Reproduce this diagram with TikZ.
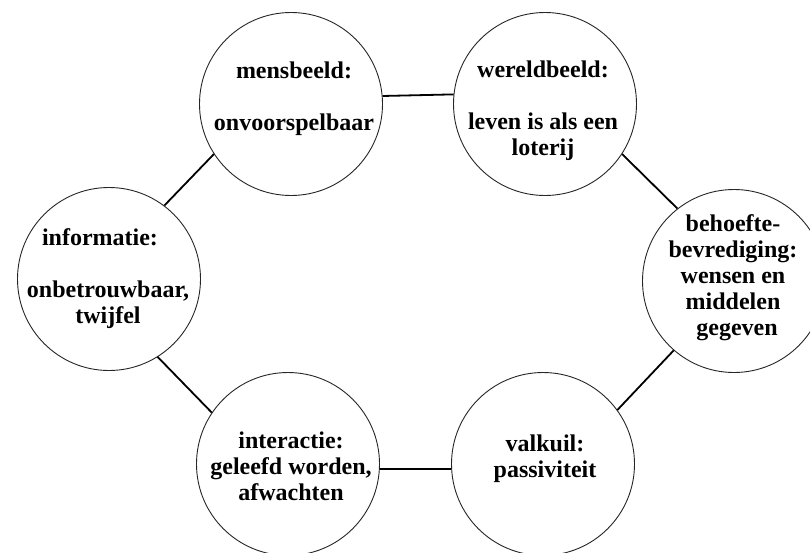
\documentclass[tikz,border=0pt]{standalone}
\usepackage{fontspec}
\setmainfont{Liberation Serif}
\begin{document}
\begin{tikzpicture}[x=1pt,y=-1pt,
  ring/.style={circle,draw=black!85,line width=0.9pt,minimum size=183pt,inner sep=0pt},
  caption/.style={align=center,font=\bfseries\fontsize{24}{26}\selectfont,
    text=black,inner sep=0pt,anchor=base},
  link/.style={line width=1.8pt,black}]
% page and frame
\fill[white] (0,0) rectangle (810,552);
\path[use as bounding box] (0,0) rectangle (810,552);
\clip (0,0) rectangle (810,552);

% the six circles
\node[ring] (mens)  at (291,104) {};
\node[ring] (wereld) at (545,104) {};
\node[ring] (behoefte) at (734,281) {};
\node[ring] (valkuil) at (543,464) {};
\node[ring] (interactie) at (288,464) {};
\node[ring] (informatie) at (109,279) {};

% texts inside the circles (placed by the baseline of their last line)
\node[caption] (mensT) at (294,130) {mensbeeld:\\[26pt]onvoorspelbaar};
\node[caption] (wereldT) at (543,155) {wereldbeeld:\\[26pt]leven is als een\\loterij};
\node[caption] (behoefteT) at (733,335) {behoefte-\\bevrediging:\\wensen en\\middelen\\\hspace*{8pt}gegeven};
\node[caption] (valkuilT) at (545,477) {valkuil:\\passiviteit};
\node[caption] (interactieT) at (291,500) {interactie:\\geleefd worden,\\afwachten};
\node[caption] (informatieT) at (108,323) {informatie:\rule{16pt}{0pt}\\[26pt]onbetrouwbaar,\\twijfel};

% connecting lines around the ring
\draw[link] (informatie.53) -- (mens.213);
\draw[link] (mens.5.6) -- (wereld.174.4);
\draw[link] (wereld.-33) -- (behoefte.128);
\draw[link] (behoefte.229) -- (valkuil.36);
\draw[link] (valkuil.183) -- (interactie.-3);
\draw[link] (interactie.146) -- (informatie.-58);
\end{tikzpicture}
\end{document}
